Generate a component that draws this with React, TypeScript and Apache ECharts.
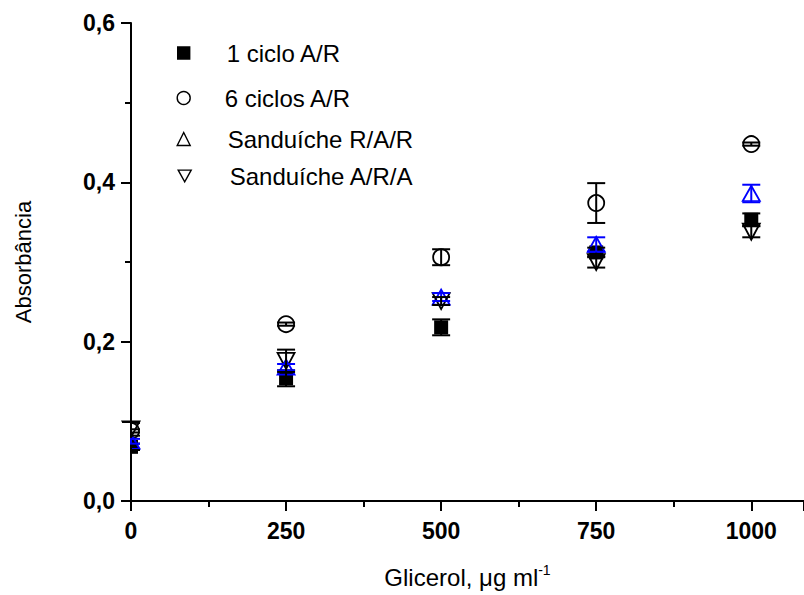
import React, { useEffect, useRef } from "react";
import * as echarts from "echarts";

const xValues = [0, 250, 500, 750, 1000];

const seriesNames = ["1 ciclo A/R", "6 ciclos A/R", "Sanduíche R/A/R", "Sanduíche A/R/A"];

const ciclo1 = [0.068, 0.154, 0.218, 0.312, 0.353];
const ciclo1Err = [0.004, 0.01, 0.01, 0.006, 0.008];

const ciclos6 = [0.088, 0.222, 0.306, 0.374, 0.448];
const ciclos6Err = [0.002, 0.002, 0.01, 0.025, 0.002];

const sandRAR = [0.075, 0.168, 0.256, 0.322, 0.386];
const sandRARErr = [0.003, 0.004, 0.005, 0.009, 0.011];

const sandARA = [0.09, 0.176, 0.251, 0.3, 0.338];
const sandARAErr = [0.008, 0.014, 0.005, 0.007, 0.007];

const yTicks = [0, 0.2, 0.4, 0.6];
const xTicks = [0, 250, 500, 750, 1000];

const FONT = "'Liberation Sans', Arial, Helvetica, sans-serif";

const pts = (ys: number[]) => xValues.map((x, i) => [x, ys[i]]);
const errPts = (ys: number[], es: number[]) => xValues.map((x, i) => [x, ys[i], es[i]]);

function errSeries(name: string, ys: number[], es: number[], color: string) {
  return {
    type: "custom",
    name,
    clip: false,
    z: 5,
    data: errPts(ys, es),
    encode: { x: 0, y: 1 },
    renderItem: (params: any, api: any) => {
      const x = api.value(0);
      const y = api.value(1);
      const e = api.value(2);
      const top = api.coord([x, y + e]);
      const bot = api.coord([x, y - e]);
      const hw = 9;
      const style = { stroke: color, lineWidth: 2 };
      return {
        type: "group",
        children: [
          { type: "line", shape: { x1: top[0], y1: top[1], x2: bot[0], y2: bot[1] }, style },
          { type: "line", shape: { x1: top[0] - hw, y1: top[1], x2: top[0] + hw, y2: top[1] }, style },
          { type: "line", shape: { x1: bot[0] - hw, y1: bot[1], x2: bot[0] + hw, y2: bot[1] }, style },
        ],
      };
    },
  };
}

const legendCenters = [
  { name: seriesNames[0], cx: 183, cy: 55, tx: 226, size: 12 },
  { name: seriesNames[1], cx: 183, cy: 100, tx: 224, size: 13 },
  { name: seriesNames[2], cx: 183, cy: 141, tx: 227, size: 13 },
  { name: seriesNames[3], cx: 184, cy: 178, tx: 229, size: 13 },
];

export default function App() {
  const ref = useRef<HTMLDivElement>(null);

  useEffect(() => {
    if (!ref.current) return;
    const chart = echarts.init(ref.current, undefined, { renderer: "svg" });
    const option: any = {
      animation: false,
      backgroundColor: "#fff",
      textStyle: { fontFamily: FONT },
      grid: { left: 131, top: 23, right: 0, bottom: 94, containLabel: false },
      graphic: [
        {
          type: "rect",
          z: 100,
          silent: true,
          shape: { x: 110, y: 423, width: 20, height: 40 },
          style: { fill: "#fff" },
        },
      ],
      legend: legendCenters.map((l) => ({
        data: [l.name],
        left: l.cx - l.size / 2,
        top: l.cy - 14,
        padding: 0,
        itemWidth: l.size,
        itemHeight: l.size,
        selectedMode: false,
        itemStyle: { borderColor: "#000", borderWidth: 1.4, opacity: 1 },
        textStyle: {
          fontFamily: FONT,
          fontSize: 24,
          color: "#000",
          padding: [0, 0, 0, l.tx - (l.cx + l.size / 2) - 5],
        },
      })),
      xAxis: {
        type: "value",
        min: 0,
        max: 1085,
        interval: 250,
        name: "{a|Glicerol, μg ml}{b|-1}",
        nameLocation: "middle",
        nameGap: 62,
        nameTextStyle: {
          rich: {
            a: { fontFamily: FONT, fontSize: 24, color: "#000" },
            b: { fontFamily: FONT, fontSize: 14, color: "#000", padding: [0, 0, 14, 0] },
          },
        },
        axisLine: { show: true, lineStyle: { color: "#000", width: 2 } },
        axisTick: { show: true, length: 10, lineStyle: { color: "#000", width: 2 } },
        minorTick: { show: true, splitNumber: 2, length: 6, lineStyle: { color: "#000", width: 2 } },
        splitLine: { show: false },
        axisLabel: {
          showMaxLabel: false,
          margin: 18,
          fontFamily: FONT,
          fontSize: 23,
          fontWeight: "bold",
          color: "#000",
          formatter: (v: number) => (xTicks.includes(v) ? String(v) : ""),
        },
      },
      yAxis: {
        type: "value",
        min: 0,
        max: 0.6,
        interval: 0.2,
        name: "Absorbância",
        nameLocation: "middle",
        nameGap: 97,
        nameTextStyle: { fontFamily: FONT, fontSize: 22, color: "#000" },
        axisLine: { show: true, lineStyle: { color: "#000", width: 2 } },
        axisTick: { show: true, length: 10, lineStyle: { color: "#000", width: 2 } },
        minorTick: { show: true, splitNumber: 2, length: 6, lineStyle: { color: "#000", width: 2 } },
        splitLine: { show: false },
        axisLabel: {
          margin: 16,
          fontFamily: FONT,
          fontSize: 23,
          fontWeight: "bold",
          color: "#000",
          formatter: (v: number) => {
            const t = yTicks.find((k) => Math.abs(k - v) < 1e-6);
            return t === undefined ? "" : t.toFixed(1).replace(".", ",");
          },
        },
      },
      series: [
        {
          type: "scatter",
          name: seriesNames[0],
          symbol: "rect",
          symbolSize: 14,
          z: 2,
          itemStyle: { color: "#000", borderColor: "#000", borderWidth: 0, opacity: 1 },
          data: pts(ciclo1),
        },
        {
          type: "scatter",
          name: seriesNames[1],
          symbol: "circle",
          symbolSize: 16,
          z: 3,
          itemStyle: { color: "rgba(255,255,255,0)", borderColor: "#000", borderWidth: 1.8, opacity: 1 },
          data: pts(ciclos6),
        },
        {
          type: "scatter",
          name: seriesNames[2],
          symbol: "triangle",
          symbolSize: [17, 15],
          z: 3,
          itemStyle: { color: "rgba(255,255,255,0)", borderColor: "#0000ff", borderWidth: 1.8, opacity: 1 },
          data: pts(sandRAR),
        },
        {
          type: "scatter",
          name: seriesNames[3],
          symbol: "path://M0,0L10,0L5,9Z",
          symbolSize: [17, 16],
          z: 3,
          itemStyle: { color: "rgba(255,255,255,0)", borderColor: "#000", borderWidth: 1.8, opacity: 1 },
          data: pts(sandARA),
        },
        errSeries("err1", ciclo1, ciclo1Err, "#000"),
        errSeries("err6", ciclos6, ciclos6Err, "#000"),
        errSeries("errRAR", sandRAR, sandRARErr, "#0000ff"),
        errSeries("errARA", sandARA, sandARAErr, "#000"),
      ],
    };
    chart.setOption(option);
    return () => chart.dispose();
  }, []);

  return (
    <div
      ref={ref}
      style={{ position: "fixed", left: 0, top: 0, width: 804, height: 595, background: "#fff" }}
    />
  );
}
